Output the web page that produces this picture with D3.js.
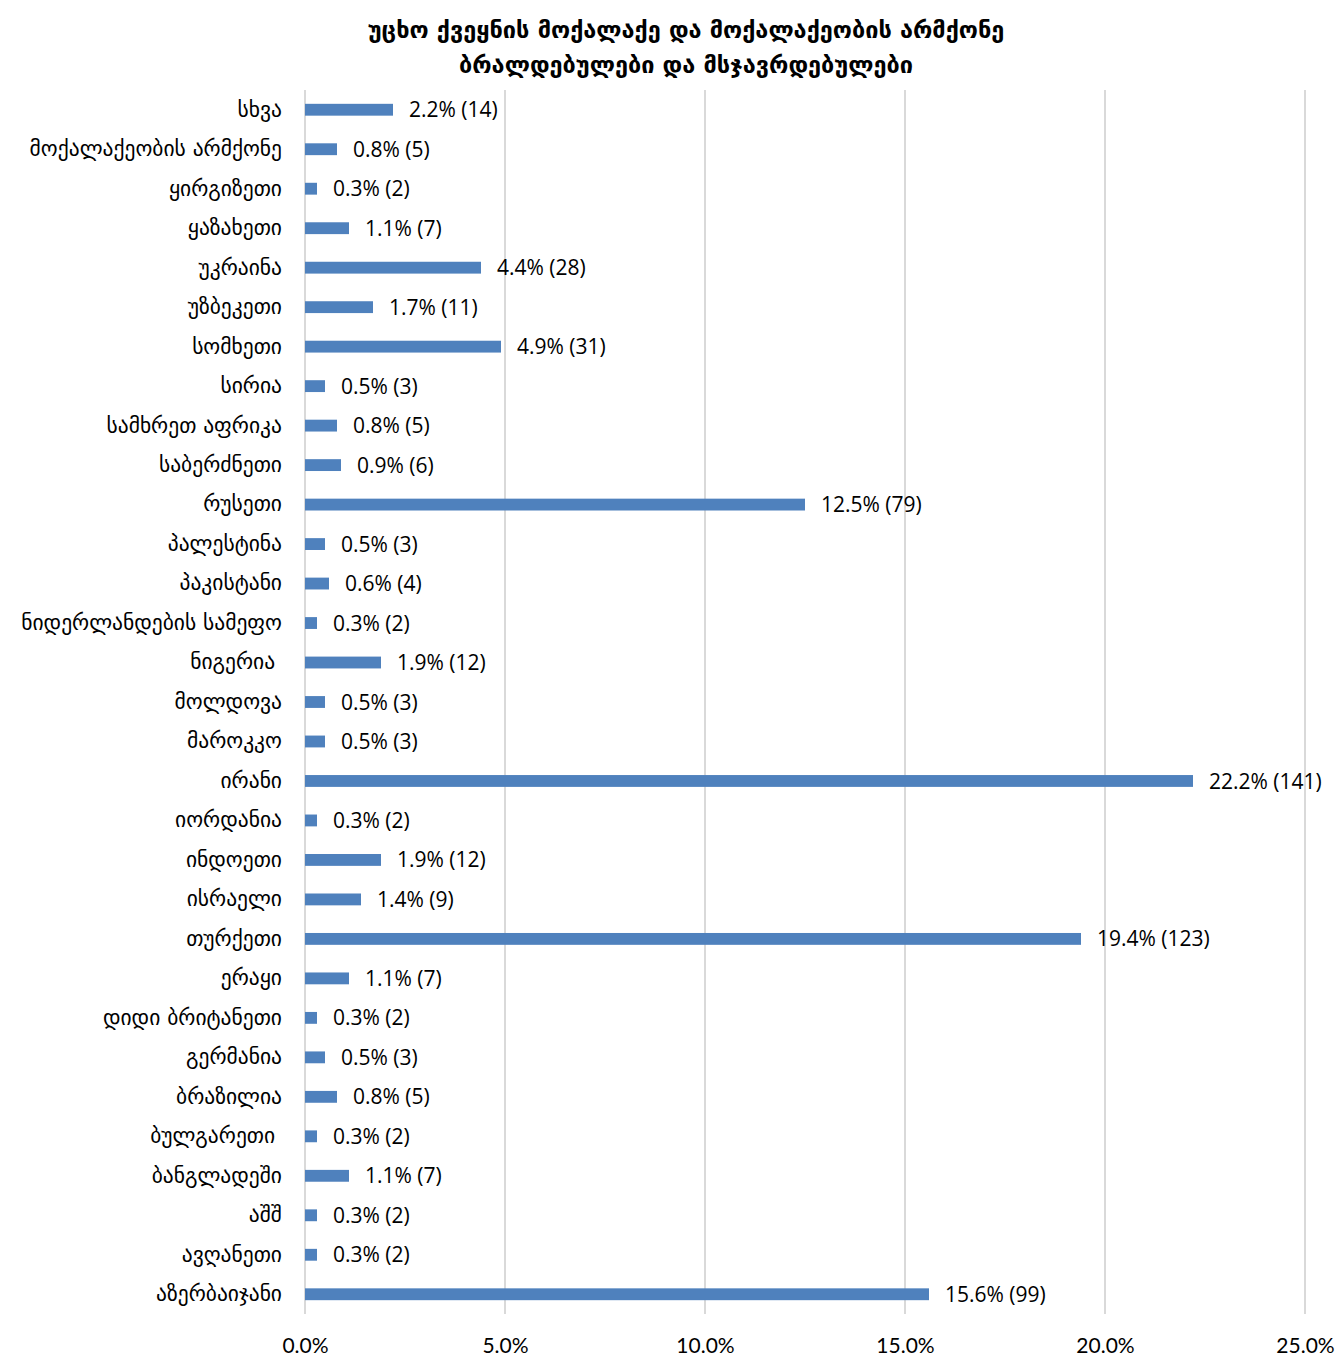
<!DOCTYPE html>
<html lang="ka">
  <head>
    <meta charset="UTF-8" />
    <title>უცხო ქვეყნის მოქალაქე და მოქალაქეობის არმქონე</title>
    <script src="https://d3js.org/d3.v7.min.js"></script>
    <style>
      body { margin: 0; background: #fff; }
      .title { font-family: "DejaVu Sans", sans-serif; font-size: 23.5px; font-weight: bold; }
      .cat text { font-family: "DejaVu Sans", sans-serif; font-size: 21.5px; fill: #000; white-space: pre; }
      .num { font-family: "Open Sans", sans-serif; font-size: 21px; fill: #000; }
      .tick-x { font-family: Lato, sans-serif; font-size: 21px; fill: #000; }
    </style>
  </head>
  <body>
    <div id="chart"></div>
    <script>
      // ქვეყნები (ზემოდან ქვემოთ)
      const countries = [
        "სხვა", "მოქალაქეობის არმქონე", "ყირგიზეთი", "ყაზახეთი", "უკრაინა",
        "უზბეკეთი", "სომხეთი", "სირია", "სამხრეთ აფრიკა", "საბერძნეთი",
        "რუსეთი", "პალესტინა", "პაკისტანი", "ნიდერლანდების სამეფო", "ნიგერია ",
        "მოლდოვა", "მაროკკო", "ირანი", "იორდანია", "ინდოეთი",
        "ისრაელი", "თურქეთი", "ერაყი", "დიდი ბრიტანეთი", "გერმანია",
        "ბრაზილია", "ბულგარეთი ", "ბანგლადეში", "აშშ", "ავღანეთი",
        "აზერბაიჯანი"
      ];
      const percents = [
        2.2, 0.8, 0.3, 1.1, 4.4, 1.7, 4.9, 0.5, 0.8, 0.9,
        12.5, 0.5, 0.6, 0.3, 1.9, 0.5, 0.5, 22.2, 0.3, 1.9,
        1.4, 19.4, 1.1, 0.3, 0.5, 0.8, 0.3, 1.1, 0.3, 0.3,
        15.6
      ];
      const counts = [
        14, 5, 2, 7, 28, 11, 31, 3, 5, 6,
        79, 3, 4, 2, 12, 3, 3, 141, 2, 12,
        9, 123, 7, 2, 3, 5, 2, 7, 2, 2,
        99
      ];
      const xTicks = [0, 5, 10, 15, 20, 25];
      const titleLines = [
        "უცხო ქვეყნის მოქალაქე და მოქალაქეობის არმქონე",
        "ბრალდებულები და მსჯავრდებულები"
      ];

      const data = countries.map((c, i) => ({ name: c, pct: percents[i], n: counts[i] }));

      const W = 1336, H = 1356;
      const margin = { top: 90, right: 31, bottom: 42, left: 305 };
      const width = W - margin.left - margin.right;
      const height = H - margin.top - margin.bottom;

      const svg = d3.select("#chart").append("svg")
        .attr("width", W).attr("height", H);

      // სათაური
      svg.append("g").selectAll("text")
        .data(titleLines).join("text")
        .attr("class", "title")
        .attr("x", 686)
        .attr("y", (d, i) => 38 + i * 35)
        .attr("text-anchor", "middle")
        .text(d => d);

      const g = svg.append("g").attr("transform", `translate(${margin.left},${margin.top})`);

      const x = d3.scaleLinear().domain([0, 25]).range([0, width]);
      const y = d3.scaleBand().domain(countries).range([0, height]).paddingInner(0.7).paddingOuter(0.35);

      // ბადე
      g.append("g").selectAll("line")
        .data(xTicks).join("line")
        .attr("x1", d => x(d)).attr("x2", d => x(d))
        .attr("y1", 0).attr("y2", height)
        .attr("stroke", "#d9d9d9").attr("stroke-width", 2);

      // სვეტები
      g.append("g").selectAll("rect")
        .data(data).join("rect")
        .attr("x", x(0))
        .attr("y", d => y(d.name))
        .attr("width", d => x(d.pct) - x(0))
        .attr("height", y.bandwidth())
        .attr("fill", "#4f81bd");

      // მნიშვნელობები
      g.append("g").selectAll("text")
        .data(data).join("text")
        .attr("class", "num")
        .attr("x", d => x(d.pct) + 16)
        .attr("y", d => y(d.name) + y.bandwidth() / 2)
        .attr("dy", "0.36em")
        .text(d => `${d.pct.toFixed(1)}% (${d.n})`);

      // y ღერძი
      const yAxis = g.append("g").attr("class", "cat")
        .call(d3.axisLeft(y).tickSize(0).tickPadding(23));
      yAxis.select(".domain").remove();
      yAxis.selectAll("text").attr("font-size", null).attr("font-family", null);

      // x ღერძი
      const xAxis = g.append("g")
        .attr("transform", `translate(0,${height})`)
        .call(d3.axisBottom(x).tickValues(xTicks).tickSize(0).tickPadding(24)
          .tickFormat(d => d.toFixed(1) + "%"));
      xAxis.select(".domain").remove();
      xAxis.selectAll("text").attr("class", "tick-x").attr("font-size", null).attr("font-family", null);
    </script>
  </body>
</html>
